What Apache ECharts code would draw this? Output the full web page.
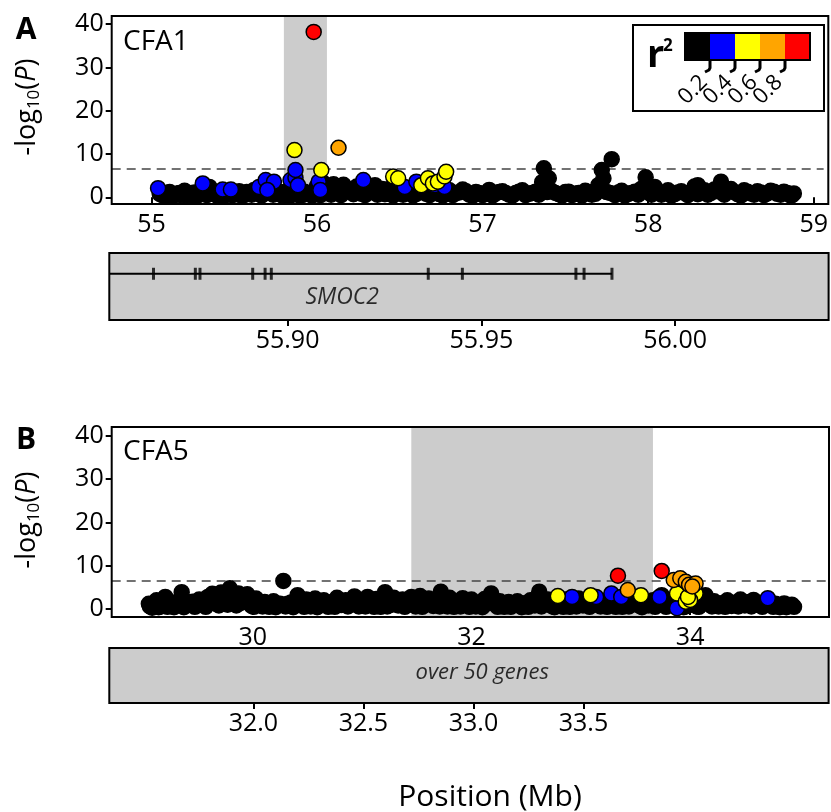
<!DOCTYPE html>
<html><head><meta charset="utf-8">
<script src="https://cdn.jsdelivr.net/npm/echarts@6/dist/echarts.min.js"></script>
<style>html,body{margin:0;padding:0;background:#fff}#c{width:831px;height:812px}</style>
</head><body><div id="c"></div>
<script>
// ---------- data ----------
const yTicks = [0, 10, 20, 30, 40];
const aTicksX = [55, 56, 57, 58, 59];
const bTicksX = [30, 32, 34];
const geneATicks = [55.90, 55.95, 56.00];
const geneBTicks = [32.0, 32.5, 33.0, 33.5];
const threshold = 6.5;
const shadeA = [55.80, 56.06];
const shadeB = [31.45, 33.66];
const legendColors = ['#000000', '#0000ff', '#ffff00', '#ffa500', '#ff0000'];
const legendLabels = ['0.2', '0.4', '0.6', '0.8'];

const aBlack = [[55.05,0.8],[55.08,0.3],[55.11,1.2],[55.14,0.5],[55.17,1.0],[55.20,1.5],[55.23,0.4],[55.26,1.1],[55.29,0.6],[55.32,1.6],[55.35,2.4],[55.38,0.7],[55.41,1.2],[55.44,0.3],[55.47,1.0],[55.50,0.6],[55.53,1.4],[55.56,0.5],[55.59,1.0],[55.62,1.7],[55.65,0.8],[55.68,2.8],[55.72,1.9],[55.76,1.0],[55.79,0.4],[55.82,1.5],[55.85,0.6],[55.88,1.2],[55.91,0.5],[55.94,0.9],[55.97,0.4],[56.00,2.6],[56.04,3.3],[56.07,1.1],[56.10,3.0],[56.13,1.8],[56.16,2.9],[56.20,1.3],[56.24,2.5],[56.27,0.8],[56.31,2.3],[56.35,2.8],[56.38,1.5],[56.41,0.7],[56.44,2.0],[56.48,1.2],[56.52,0.6],[56.56,1.5],[56.60,0.8],[56.64,1.3],[56.68,0.5],[56.72,1.0],[56.76,0.4],[56.80,1.6],[56.84,1.0],[56.88,1.8],[56.92,0.6],[56.96,1.2],[57.00,0.5],[57.04,1.7],[57.08,0.9],[57.12,1.4],[57.16,0.6],[57.20,1.0],[57.24,1.6],[57.28,0.8],[57.32,1.3],[57.36,3.5],[57.37,6.7],[57.38,2.3],[57.40,4.4],[57.42,1.4],[57.46,0.7],[57.50,1.2],[57.54,0.5],[57.58,1.0],[57.62,1.5],[57.66,0.6],[57.70,2.8],[57.72,6.3],[57.73,4.4],[57.75,1.2],[57.78,8.8],[57.80,0.5],[57.84,1.5],[57.88,0.8],[57.92,1.3],[57.96,2.0],[57.985,4.6],[58.00,1.2],[58.04,2.4],[58.08,0.6],[58.12,1.6],[58.16,0.7],[58.20,1.4],[58.24,0.5],[58.28,2.5],[58.30,2.8],[58.32,1.3],[58.36,0.6],[58.40,1.8],[58.44,3.6],[58.47,1.2],[58.50,1.9],[58.54,0.7],[58.58,1.6],[58.62,0.9],[58.66,1.4],[58.70,0.5],[58.74,1.5],[58.78,0.8],[58.82,1.3],[58.86,0.4],[58.88,0.9]];
const aBlackLow = [[55.065,0.5],[55.095,1.0],[55.125,0.2],[55.155,0.9],[55.185,0.4],[55.215,1.1],[55.245,0.6],[55.275,0.3],[55.305,1.0],[55.335,0.5],[55.365,1.2],[55.395,0.4],[55.425,0.8],[55.455,1.3],[55.485,0.5],[55.515,0.9],[55.545,0.3],[55.575,1.2],[55.605,0.6],[55.635,1.0],[55.665,0.4],[55.695,1.3],[55.735,0.6],[55.775,1.2],[55.805,0.8],[55.835,0.3],[55.865,1.0],[55.895,0.4],[55.925,1.3],[55.955,0.7],[55.985,1.1],[56.02,0.5],[56.055,1.8],[56.085,0.6],[56.115,1.2],[56.145,0.5],[56.18,1.6],[56.22,0.7],[56.255,1.4],[56.29,0.5],[56.33,1.2],[56.365,0.6],[56.395,1.9],[56.425,0.9],[56.46,0.4],[56.50,1.6],[56.54,1.0],[56.58,0.4],[56.62,1.6],[56.66,0.8],[56.70,1.4],[56.74,0.7],[56.78,1.2],[56.82,0.5],[56.86,1.1],[56.90,1.4],[56.94,0.3],[56.98,1.0],[57.02,0.8],[57.06,0.4],[57.10,1.2],[57.14,1.0],[57.18,0.4],[57.22,1.3],[57.26,0.5],[57.30,1.0],[57.34,0.6],[57.39,1.2],[57.44,1.0],[57.48,0.4],[57.52,1.3],[57.56,0.8],[57.60,0.4],[57.64,1.2],[57.68,0.8],[57.71,1.6],[57.77,1.0],[57.82,1.1],[57.86,0.4],[57.90,1.0],[57.94,0.6],[57.98,1.6],[58.02,0.6],[58.06,1.3],[58.10,1.0],[58.14,0.4],[58.18,1.1],[58.22,1.0],[58.26,1.2],[58.30,0.7],[58.34,1.6],[58.38,1.0],[58.42,1.4],[58.46,0.6],[58.52,1.2],[58.56,0.4],[58.60,1.3],[58.64,0.6],[58.68,1.1],[58.72,0.9],[58.76,1.3],[58.80,0.6],[58.84,1.0],[58.87,0.5]];
const aBlue = [[55.04,2.1],[55.31,3.2],[55.43,1.8],[55.48,1.8],[55.65,2.4],[55.69,4.0],[55.74,3.6],[55.70,1.7],[55.84,4.0],[55.87,4.5],[55.87,6.3],[55.885,2.8],[56.01,3.6],[56.02,1.7],[56.28,4.0],[56.53,2.4],[56.60,3.6],[56.71,2.8],[56.77,2.4]];
const aYellow = [[55.864,10.9],[56.026,6.3],[56.46,4.8],[56.49,4.4],[56.63,2.8],[56.67,4.4],[56.70,3.2],[56.73,3.6],[56.77,4.8],[56.78,5.9]];
const aOrange = [[56.13,11.45]];
const aRed = [[55.98,38.2]];

const bBlack = [[29.05,1.2],[29.08,0.3],[29.12,2.0],[29.16,0.6],[29.20,2.8],[29.24,1.0],[29.28,0.4],[29.32,1.8],[29.35,3.9],[29.39,0.8],[29.43,1.5],[29.47,0.5],[29.51,2.2],[29.55,1.0],[29.59,2.8],[29.63,3.5],[29.67,1.2],[29.71,3.8],[29.75,2.4],[29.79,4.8],[29.83,1.5],[29.87,3.6],[29.91,2.0],[29.95,3.4],[29.99,0.7],[30.03,2.4],[30.07,1.0],[30.11,1.6],[30.15,0.5],[30.19,1.8],[30.23,0.8],[30.28,6.5],[30.32,1.2],[30.37,0.4],[30.41,3.2],[30.45,1.0],[30.49,2.2],[30.53,0.6],[30.57,2.4],[30.61,1.4],[30.65,2.0],[30.69,0.5],[30.73,1.6],[30.77,2.6],[30.81,0.9],[30.85,2.0],[30.89,1.2],[30.93,2.9],[30.97,0.6],[31.01,1.8],[31.05,2.8],[31.09,1.0],[31.13,2.3],[31.17,0.5],[31.21,3.9],[31.25,1.5],[31.29,2.6],[31.33,0.8],[31.37,2.2],[31.41,1.2],[31.45,2.8],[31.49,0.6],[31.53,3.0],[31.57,1.6],[31.61,2.4],[31.65,0.7],[31.69,2.0],[31.72,4.0],[31.76,1.2],[31.80,2.6],[31.84,0.5],[31.88,1.8],[31.92,2.5],[31.96,1.0],[32.00,2.2],[32.04,0.6],[32.08,1.5],[32.12,2.3],[32.18,3.6],[32.22,1.0],[32.26,1.8],[32.30,0.5],[32.34,1.6],[32.38,0.9],[32.42,1.8],[32.46,0.4],[32.50,1.4],[32.54,2.0],[32.58,0.8],[32.62,4.0],[32.66,1.5],[32.70,2.2],[32.74,0.6],[32.78,1.9],[32.82,1.0],[32.86,2.2],[32.90,0.5],[32.94,1.6],[32.98,2.4],[33.02,0.8],[33.06,1.8],[33.10,1.0],[33.14,2.0],[33.18,0.6],[33.22,1.6],[33.26,2.4],[33.30,0.9],[33.34,1.8],[33.38,0.5],[33.42,2.2],[33.46,1.2],[33.50,2.4],[33.54,0.7],[33.58,1.6],[33.62,0.8],[33.66,2.0],[33.70,1.2],[33.74,3.2],[33.78,0.5],[33.82,2.0],[33.86,0.9],[33.90,1.6],[33.94,0.4],[33.98,0.9],[34.02,1.5],[34.06,0.6],[34.10,2.4],[34.14,3.2],[34.18,1.0],[34.22,1.8],[34.26,0.6],[34.30,1.4],[34.34,2.0],[34.38,0.7],[34.42,1.5],[34.46,2.2],[34.50,0.8],[34.54,1.6],[34.58,2.1],[34.62,1.0],[34.66,0.5],[34.70,1.6],[34.74,0.8],[34.78,1.2],[34.82,0.4],[34.86,1.3],[34.90,0.9],[34.95,0.5]];
const bBlackLow = [[29.06,0.6],[29.10,1.4],[29.14,0.4],[29.18,1.6],[29.22,0.5],[29.26,1.5],[29.30,0.8],[29.34,1.2],[29.37,0.4],[29.41,1.0],[29.45,1.7],[29.49,0.8],[29.53,1.3],[29.57,0.5],[29.61,1.6],[29.65,2.2],[29.69,0.8],[29.73,1.8],[29.77,1.0],[29.81,2.6],[29.85,0.8],[29.89,1.4],[29.93,2.2],[29.97,1.3],[30.01,0.5],[30.05,1.4],[30.09,0.6],[30.13,1.1],[30.17,1.0],[30.21,0.4],[30.25,1.2],[30.30,0.6],[30.35,1.5],[30.39,1.0],[30.43,1.8],[30.47,0.5],[30.51,1.5],[30.55,1.0],[30.59,0.4],[30.63,1.0],[30.67,1.4],[30.71,1.0],[30.75,0.5],[30.79,1.5],[30.83,1.0],[30.87,0.6],[30.91,1.5],[30.95,1.8],[30.99,1.2],[31.03,0.6],[31.07,1.6],[31.11,0.5],[31.15,1.5],[31.19,1.2],[31.23,0.6],[31.27,1.0],[31.31,1.8],[31.35,1.3],[31.39,0.5],[31.43,1.6],[31.47,1.3],[31.51,1.0],[31.55,0.5],[31.59,1.2],[31.63,1.6],[31.67,1.0],[31.71,0.6],[31.74,2.0],[31.78,0.6],[31.82,1.4],[31.86,1.2],[31.90,0.6],[31.94,1.5],[31.98,0.5],[32.02,1.4],[32.06,1.0],[32.10,0.4],[32.15,1.3],[32.20,2.0],[32.24,0.5],[32.28,1.2],[32.32,1.0],[32.36,0.5],[32.40,1.2],[32.44,1.0],[32.48,0.8],[32.52,0.5],[32.56,1.2],[32.60,2.0],[32.64,0.6],[32.68,1.3],[32.72,1.0],[32.76,0.4],[32.80,1.2],[32.84,0.5],[32.88,1.4],[32.92,1.0],[32.96,0.6],[33.00,1.5],[33.04,1.2],[33.08,0.5],[33.12,1.4],[33.16,1.0],[33.20,1.2],[33.24,0.5],[33.28,1.3],[33.32,0.5],[33.36,1.2],[33.40,1.0],[33.44,0.6],[33.48,1.5],[33.52,1.0],[33.56,0.4],[33.60,1.3],[33.64,1.0],[33.68,0.5],[33.72,1.5],[33.76,1.0],[33.80,0.8],[33.84,1.5],[33.88,1.2],[33.92,0.8],[33.96,0.6],[34.00,1.0],[34.04,1.2],[34.08,0.5],[34.12,1.5],[34.16,2.0],[34.20,0.6],[34.24,1.2],[34.28,1.0],[34.32,0.5],[34.36,1.2],[34.40,1.0],[34.44,0.6],[34.48,1.4],[34.52,1.2],[34.56,0.6],[34.60,1.5],[34.64,0.8],[34.68,1.2],[34.72,1.0],[34.76,0.5],[34.80,1.0],[34.84,0.7],[34.88,0.4],[34.93,1.0]];
const bBlue = [[32.92,2.8],[33.14,2.8],[33.28,3.6],[33.37,2.8],[33.72,2.8],[33.88,0.2],[34.71,2.5]];
const bYellow = [[32.79,3.0],[33.09,3.2],[33.55,3.2],[33.88,3.6],[33.96,1.7],[34.05,3.6],[34.00,2.1],[33.98,2.8]];
const bOrange = [[33.43,4.4],[33.85,6.7],[33.91,7.1],[33.96,6.3],[33.99,5.6],[34.05,5.9],[34.02,5.2]];
const bRed = [[33.34,7.7],[33.74,8.8]];

const geneAStart = 55.854, geneAEnd = 55.9837;
const geneAExons = [55.8654,55.8762,55.8774,55.8910,55.8942,55.8958,55.9363,55.9451,55.9744,55.9765,55.9837];
const geneALabel = 'SMOC2';
const geneBLabel = 'over 50 genes';

// ---------- layout ----------
const FF = '"Open Sans", sans-serif';
const gA = {left:111.7, top:16, width:716.6, height:188};
const gGA = {left:109.3, top:253, width:719.3, height:67};
const gB = {left:111.7, top:427, width:717.3, height:190};
const gGB = {left:109.3, top:648, width:719.3, height:55};

function xAx(grid, min, max, ticks, dec){
  return {gridIndex:grid, type:'value', min:min, max:max,
    axisLine:{show:false},
    axisTick:{show:true, length:6, lineStyle:{color:'#000', width:2}, customValues:ticks},
    axisLabel:{show:true, customValues:ticks, fontSize:25, color:'#000', fontFamily:FF, margin:8,
      formatter: v => dec ? v.toFixed(dec) : String(v)},
    splitLine:{show:false}};
}
function yAx(grid, min, max){
  return {gridIndex:grid, type:'value', min:min, max:max,
    axisLine:{show:false},
    axisTick:{show:true, length:6, lineStyle:{color:'#000', width:2}, customValues:yTicks},
    axisLabel:{show:true, customValues:yTicks, fontSize:25, color:'#000', fontFamily:FF, margin:8},
    splitLine:{show:false}};
}
function yHidden(grid){
  return {gridIndex:grid, type:'value', min:0, max:1, show:false, splitLine:{show:false}};
}
function pts(data, color, xi){
  return {type:'scatter', xAxisIndex:xi, yAxisIndex:xi, data:data, symbolSize:15,
    itemStyle:{color:color, borderColor:'#000', borderWidth:1.5, opacity:1}, z:5, silent:true, animation:false};
}
function helper(xi, shade){
  return {type:'scatter', xAxisIndex:xi, yAxisIndex:xi, data:[], z:1, silent:true, animation:false,
    markArea:{silent:true, itemStyle:{color:'#cccccc'}, data:[[{xAxis:shade[0]},{xAxis:shade[1]}]]},
    markLine:{silent:true, symbol:['none','none'], label:{show:false},
      lineStyle:{color:'#444', width:1.5, type:[9,6]}, data:[{yAxis:threshold}]}};
}

const series = [
  helper(0, shadeA),
  pts(aBlackLow, '#000000', 0),
  pts(aBlack, '#000000', 0),
  pts(aBlue, '#0000ff', 0),
  pts(aYellow, '#ffff00', 0),
  pts(aOrange, '#ffa500', 0),
  pts(aRed, '#ff0000', 0),
  {type:'line', xAxisIndex:1, yAxisIndex:1, data:[[geneAStart,0.69],[geneAEnd,0.69]], symbol:'none',
    lineStyle:{color:'#000', width:2}, silent:true, animation:false},
  {type:'scatter', xAxisIndex:1, yAxisIndex:1, data:geneAExons.map(x=>[x,0.69]), symbol:'rect', symbolSize:[3,12],
    itemStyle:{color:'#000'}, silent:true, animation:false},
  {type:'scatter', xAxisIndex:1, yAxisIndex:1, data:[[55.9141,0.34]], symbolSize:1, itemStyle:{color:'rgba(0,0,0,0)'},
    label:{show:true, position:'inside', formatter:geneALabel, fontSize:23, fontStyle:'italic', color:'#000', fontFamily:FF},
    silent:true, animation:false},
  helper(2, shadeB),
  pts(bBlackLow, '#000000', 2),
  pts(bBlack, '#000000', 2),
  pts(bBlue, '#0000ff', 2),
  pts(bYellow, '#ffff00', 2),
  pts(bOrange, '#ffa500', 2),
  pts(bRed, '#ff0000', 2),
  {type:'scatter', xAxisIndex:3, yAxisIndex:3, data:[[33.04,0.55]], symbolSize:1, itemStyle:{color:'rgba(0,0,0,0)'},
    label:{show:true, position:'inside', formatter:geneBLabel, fontSize:22, fontStyle:'italic', color:'#000', fontFamily:FF},
    silent:true, animation:false}
];

function border(g){
  return {type:'rect', shape:{x:g.left, y:g.top, width:g.width, height:g.height},
    style:{fill:'none', stroke:'#000', lineWidth:2}, z:100, silent:true};
}
const graphic = [border(gA), border(gGA), border(gB), border(gGB)];
graphic.push({type:'text', x:26, y:30, z:100, style:{text:'A', font:'bold 30px '+FF, fill:'#000', align:'center', verticalAlign:'middle'}});
graphic.push({type:'text', x:26, y:440, z:100, style:{text:'B', font:'bold 30px '+FF, fill:'#000', align:'center', verticalAlign:'middle'}});
graphic.push({type:'text', x:123, y:42, z:100, style:{text:'CFA1', font:'28px '+FF, fill:'#000', align:'left', verticalAlign:'middle'}});
graphic.push({type:'text', x:123, y:452, z:100, style:{text:'CFA5', font:'28px '+FF, fill:'#000', align:'left', verticalAlign:'middle'}});
graphic.push({type:'text', x:490, y:797, z:100, style:{text:'Position (Mb)', font:'30px '+FF, fill:'#000', align:'center', verticalAlign:'middle'}});
function ylab(cy){
  return {type:'text', x:27, y:cy, rotation:Math.PI/2, z:100,
    style:{text:'-log{sub|10}({it|P})', fontSize:27, fontFamily:FF, fill:'#000', align:'center', verticalAlign:'middle',
      rich:{sub:{fontSize:17, fontFamily:FF, padding:[14,0,0,0]}, it:{fontSize:27, fontStyle:'italic', fontFamily:FF}}}};
}
graphic.push(ylab(107));
graphic.push(ylab(520));
// legend
const lg = {x:633, y:25, w:191, h:86};
graphic.push({type:'rect', shape:{x:lg.x, y:lg.y, width:lg.w, height:lg.h}, style:{fill:'#fff', stroke:'#000', lineWidth:2}, z:90});
const barX = 685, barY = 33, segW = 25, barH = 27;
legendColors.forEach((c,i)=>{
  graphic.push({type:'rect', shape:{x:barX+i*segW, y:barY, width:segW, height:barH}, style:{fill:c}, z:91});
});
graphic.push({type:'rect', shape:{x:barX, y:barY, width:segW*5, height:barH}, style:{fill:'none', stroke:'#000', lineWidth:2}, z:92});
legendLabels.forEach((t,i)=>{
  const hx = barX + (i+1)*segW;
  graphic.push({type:'polyline', shape:{points:[[hx,barY+barH],[hx,barY+barH+8],[hx-1,barY+barH+10],[hx-5,barY+barH+12]]},
    style:{stroke:'#000', lineWidth:3, fill:'none'}, z:92});
  graphic.push({type:'text', x:hx-6, y:barY+barH+19, rotation:Math.PI/4, z:92,
    style:{text:t, font:'22px '+FF, fill:'#000', align:'right', verticalAlign:'middle'}});
});
graphic.push({type:'text', x:647, y:56, z:92, style:{text:'r', font:'bold 38px '+FF, fill:'#000', align:'left', verticalAlign:'middle'}});
graphic.push({type:'text', x:663, y:46, z:92, style:{text:'2', font:'bold 17px '+FF, fill:'#000', align:'left', verticalAlign:'middle'}});

const option = {
  animation:false,
  backgroundColor:'#fff',
  grid:[
    Object.assign({show:false}, gA),
    Object.assign({show:true, backgroundColor:'#cccccc', borderWidth:0}, gGA),
    Object.assign({show:false}, gB),
    Object.assign({show:true, backgroundColor:'#cccccc', borderWidth:0}, gGB)
  ],
  xAxis:[
    xAx(0, 54.76, 59.06, aTicksX, 0),
    xAx(1, 55.854, 56.0396, geneATicks, 2),
    xAx(2, 28.71, 35.27, bTicksX, 0),
    xAx(3, 31.345, 34.614, geneBTicks, 1)
  ],
  yAxis:[
    yAx(0, -1.55, 41.87),
    yHidden(1),
    yAx(2, -1.85, 42.08),
    yHidden(3)
  ],
  series:series,
  graphic:graphic
};
const chart = echarts.init(document.getElementById('c'), null, {renderer:'canvas'});
chart.setOption(option);
</script></body></html>
